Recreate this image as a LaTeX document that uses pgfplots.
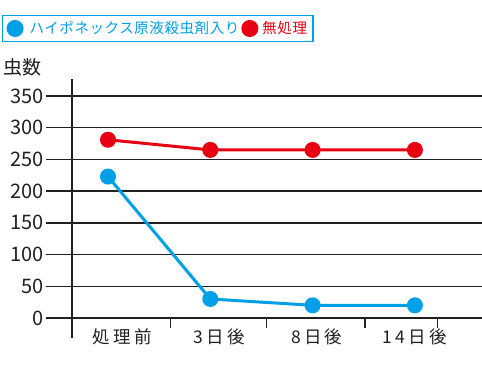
\documentclass[border=0pt]{standalone}
\usepackage{pgfplots}
\pgfplotsset{compat=1.18}
\usepackage{fontspec}
\setmainfont{Noto Sans CJK JP}
\newfontfamily\lsfont{Noto Sans CJK JP}[LetterSpace=18]
\newfontfamily\lgfont{Noto Sans CJK JP}[LetterSpace=4]
\definecolor{ink}{HTML}{231F20}
\definecolor{cblue}{HTML}{00A0E9}
\definecolor{cred}{HTML}{E60012}
\begin{document}
\begin{tikzpicture}[x=1pt,y=1pt]
\useasboundingbox (0,0) rectangle (482,372);
\begin{axis}[
  at={(46pt,54pt)}, anchor=south west,
  scale only axis, width=436pt, height=222pt,
  xmin=-0.606, xmax=3.656, ymin=0, ymax=350,
  clip=false,
  axis line style={draw=none},
  /pgf/number format/assume math mode=true,
  ytick={0,50,...,350},
  ymajorgrids, major grid style={draw=ink, line width=1.5pt},
  ytick style={draw=none},
  yticklabel style={font=\fontsize{20}{20}\selectfont, text=ink, anchor=east, inner sep=2pt},
  xtick={0.14,1.09,2.04,3.0},
  xticklabels={処理前,3日後,8日後,14日後},
  xtick pos=bottom,
  xtick style={draw=none},
  xticklabel style={font=\fontsize{17.5}{17.5}\lsfont, text=ink, anchor=north, yshift=-7pt},
  extra x ticks={0.61,1.55,2.51,3.22},
  extra x tick labels={},
  extra x tick style={xtick style={draw=ink, line width=1.5pt}, tick align=outside, major tick length=10pt, xtick pos=bottom},
  ylabel={虫数},
  ylabel style={rotate=-90, anchor=base west, at={(axis description cs:-0.1055,1.099)}, font=\fontsize{19}{19}\selectfont, text=ink},
  legend columns=2,
  legend style={at={(axis description cs:-0.101,1.365)}, anchor=north west,
    draw=cblue, line width=1.2pt, font=\fontsize{14.5}{14.5}\lgfont,
    inner xsep=4pt, inner ysep=4pt, cells={anchor=west},
    /tikz/every even column/.append style={column sep=0pt}},
  legend image code/.code={\fill[#1] (0.3cm,0cm) circle (7pt);},
]
\draw[ink, line width=1.5pt] (axis cs:-0.352,-31.5) -- (axis cs:-0.352,376.8);
\addplot[cblue, line width=3pt, mark=*, mark size=6.5pt, mark options={fill=cblue, draw=none}] coordinates {(0,223) (1,30) (2,20) (3,20)};
\addlegendentry{\hspace{4pt}\textcolor{cblue}{ハイポネックス原液殺虫剤入り}}
\addplot[cred, line width=3pt, mark=*, mark size=6.5pt, mark options={fill=cred, draw=none}] coordinates {(0,281) (1,265) (2,265) (3,265)};
\addlegendentry{\hspace{2pt}\textcolor{cred}{無処理}}
\end{axis}
\end{tikzpicture}
\end{document}
